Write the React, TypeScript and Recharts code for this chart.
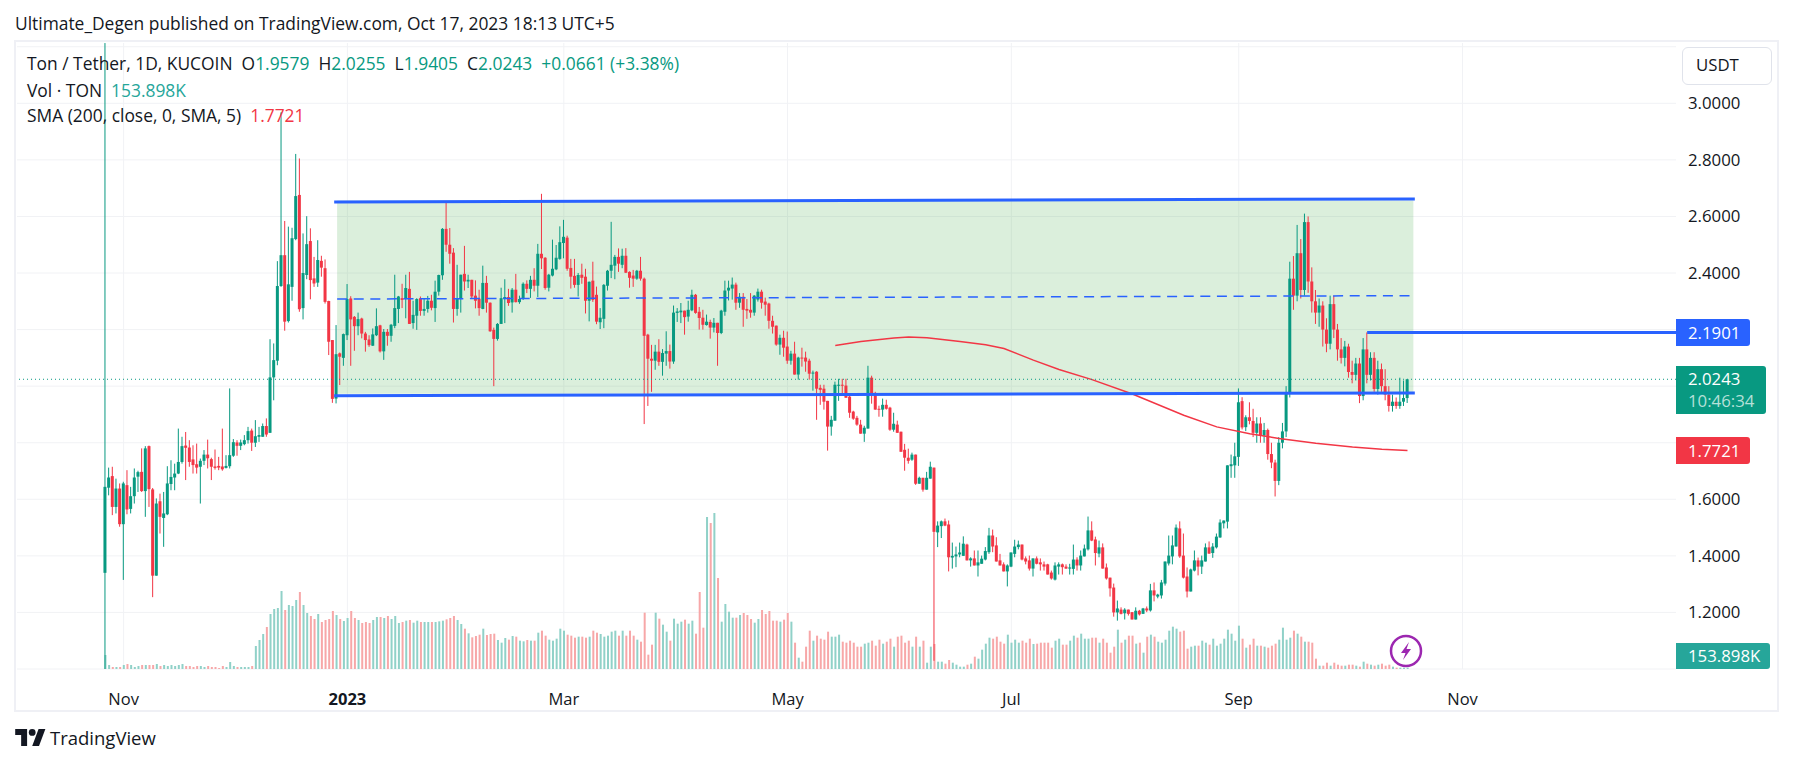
import { Bar, CartesianGrid, ComposedChart, Line, ReferenceArea, ReferenceLine, XAxis, YAxis } from 'recharts'

// open, high, low, close per day, day 0 = Oct 27 2022
const ohlc = [
  [1.34,3.213,1.0,1.644],[1.641,1.712,1.614,1.677],[1.682,1.715,1.544,1.573],[1.573,1.673,1.55,1.638],
  [1.638,1.656,1.503,1.512],[1.512,1.662,1.315,1.656],[1.65,1.703,1.547,1.564],[1.566,1.644,1.55,1.611],
  [1.611,1.709,1.585,1.677],[1.68,1.701,1.626,1.696],[1.697,1.78,1.626,1.629],[1.629,1.788,1.538,1.78],
  [1.788,1.79,1.573,1.636],[1.635,1.64,1.254,1.33],[1.33,1.603,1.33,1.585],[1.593,1.62,1.479,1.538],
  [1.534,1.626,1.432,1.55],[1.547,1.717,1.544,1.656],[1.654,1.738,1.632,1.679],[1.677,1.726,1.632,1.691],
  [1.691,1.85,1.689,1.732],[1.732,1.821,1.726,1.788],[1.79,1.838,1.668,1.782],[1.783,1.809,1.715,1.732],
  [1.741,1.791,1.691,1.721],[1.724,1.797,1.691,1.712],[1.715,1.744,1.585,1.736],[1.736,1.774,1.721,1.758],
  [1.758,1.811,1.709,1.745],[1.742,1.747,1.668,1.715],[1.716,1.776,1.705,1.711],[1.718,1.75,1.703,1.712],
  [1.716,1.85,1.701,1.706],[1.711,1.756,1.709,1.718],[1.717,1.992,1.709,1.756],[1.754,1.813,1.75,1.802],
  [1.801,1.809,1.754,1.789],[1.789,1.811,1.774,1.801],[1.795,1.827,1.791,1.809],[1.809,1.856,1.797,1.841],
  [1.843,1.85,1.771,1.8],[1.8,1.88,1.785,1.823],[1.821,1.856,1.803,1.827],[1.821,1.868,1.821,1.859],
  [1.859,1.886,1.821,1.829],[1.835,2.166,1.835,2.031],[2.031,2.151,1.95,2.092],[2.09,2.442,2.074,2.354],
  [2.354,2.968,2.351,2.463],[2.463,2.584,2.196,2.228],[2.23,2.564,2.225,2.36],[2.351,2.56,2.302,2.523],
  [2.52,2.821,2.516,2.672],[2.676,2.805,2.263,2.272],[2.276,2.54,2.236,2.4],[2.393,2.601,2.378,2.502],
  [2.513,2.558,2.307,2.375],[2.381,2.457,2.351,2.363],[2.366,2.516,2.351,2.446],[2.443,2.461,2.387,2.419],
  [2.417,2.448,2.292,2.298],[2.301,2.302,2.11,2.157],[2.163,2.163,1.941,1.955],[1.956,2.216,1.939,2.113],
  [2.116,2.119,2.004,2.104],[2.1,2.186,2.072,2.184],[2.18,2.361,2.163,2.308],[2.31,2.318,2.072,2.236],
  [2.245,2.248,2.125,2.212],[2.212,2.26,2.18,2.237],[2.239,2.242,2.169,2.186],[2.186,2.192,2.122,2.163],
  [2.165,2.18,2.139,2.145],[2.143,2.204,2.142,2.183],[2.18,2.275,2.177,2.212],[2.215,2.217,2.119,2.123],
  [2.123,2.202,2.093,2.192],[2.192,2.202,2.143,2.178],[2.178,2.22,2.157,2.217],[2.213,2.394,2.205,2.276],
  [2.273,2.319,2.223,2.317],[2.311,2.362,2.276,2.305],[2.308,2.394,2.24,2.347],[2.344,2.404,2.22,2.22],
  [2.223,2.302,2.203,2.252],[2.249,2.311,2.199,2.308],[2.311,2.317,2.249,2.266],[2.266,2.311,2.249,2.273],
  [2.273,2.319,2.26,2.302],[2.302,2.323,2.268,2.277],[2.276,2.373,2.227,2.334],[2.334,2.394,2.32,2.393],
  [2.392,2.559,2.376,2.556],[2.556,2.653,2.475,2.5],[2.5,2.559,2.433,2.468],[2.472,2.488,2.225,2.273],
  [2.273,2.429,2.249,2.311],[2.309,2.394,2.26,2.394],[2.397,2.496,2.338,2.37],[2.37,2.394,2.347,2.376],
  [2.376,2.376,2.308,2.317],[2.32,2.374,2.275,2.302],[2.309,2.341,2.249,2.276],[2.273,2.426,2.272,2.365],
  [2.365,2.39,2.26,2.295],[2.295,2.296,2.192,2.194],[2.199,2.207,2.0,2.167],[2.167,2.223,2.161,2.22],
  [2.22,2.348,2.22,2.311],[2.308,2.378,2.223,2.315],[2.315,2.344,2.284,2.294],[2.296,2.347,2.26,2.341],
  [2.341,2.397,2.296,2.297],[2.297,2.32,2.291,2.308],[2.308,2.367,2.305,2.362],[2.362,2.374,2.329,2.344],
  [2.344,2.39,2.312,2.376],[2.376,2.417,2.335,2.355],[2.355,2.503,2.315,2.468],[2.468,2.68,2.414,2.452],
  [2.454,2.456,2.341,2.347],[2.348,2.397,2.335,2.394],[2.391,2.518,2.388,2.415],[2.413,2.499,2.41,2.454],
  [2.45,2.565,2.447,2.509],[2.506,2.588,2.452,2.528],[2.525,2.532,2.408,2.415],[2.418,2.45,2.345,2.387],
  [2.39,2.45,2.348,2.358],[2.358,2.4,2.317,2.393],[2.394,2.433,2.362,2.383],[2.387,2.415,2.257,2.302],
  [2.302,2.37,2.229,2.369],[2.373,2.44,2.298,2.305],[2.323,2.352,2.219,2.228],[2.226,2.276,2.202,2.242],
  [2.238,2.361,2.205,2.358],[2.355,2.411,2.338,2.408],[2.408,2.581,2.382,2.429],[2.426,2.464,2.378,2.457],
  [2.457,2.487,2.404,2.433],[2.429,2.486,2.417,2.461],[2.461,2.488,2.4,2.401],[2.404,2.406,2.348,2.383],
  [2.391,2.411,2.351,2.38],[2.38,2.411,2.376,2.408],[2.408,2.457,2.373,2.38],[2.38,2.384,1.866,2.178],
  [2.182,2.185,1.93,2.097],[2.097,2.146,1.98,2.09],[2.09,2.146,2.058,2.122],[2.122,2.166,2.072,2.086],
  [2.086,2.131,2.037,2.117],[2.115,2.194,2.072,2.124],[2.124,2.147,2.062,2.087],[2.087,2.285,2.079,2.26],
  [2.259,2.276,2.227,2.264],[2.261,2.294,2.223,2.267],[2.267,2.267,2.182,2.244],[2.246,2.302,2.228,2.27],
  [2.268,2.341,2.265,2.323],[2.323,2.326,2.256,2.259],[2.263,2.28,2.2,2.241],[2.242,2.27,2.2,2.217],
  [2.216,2.253,2.214,2.228],[2.227,2.235,2.168,2.207],[2.207,2.241,2.19,2.224],[2.224,2.224,2.072,2.188],
  [2.188,2.27,2.184,2.267],[2.263,2.373,2.249,2.338],[2.338,2.373,2.303,2.348],[2.345,2.384,2.306,2.359],
  [2.359,2.366,2.27,2.295],[2.295,2.329,2.277,2.316],[2.316,2.329,2.21,2.27],[2.273,2.308,2.238,2.267],
  [2.27,2.329,2.242,2.26],[2.26,2.322,2.249,2.32],[2.306,2.345,2.299,2.334],[2.334,2.341,2.274,2.295],
  [2.299,2.313,2.249,2.288],[2.292,2.295,2.203,2.231],[2.231,2.249,2.186,2.21],[2.214,2.214,2.143,2.147],
  [2.147,2.182,2.111,2.171],[2.171,2.196,2.104,2.136],[2.14,2.193,2.079,2.09],[2.09,2.125,2.076,2.115],
  [2.115,2.157,2.041,2.041],[2.041,2.104,2.023,2.101],[2.101,2.136,2.069,2.098],[2.101,2.122,2.051,2.087],
  [2.09,2.097,2.023,2.044],[2.045,2.055,1.984,2.048],[2.051,2.053,1.881,1.991],[1.994,2.005,1.934,1.987],
  [1.991,2.005,1.917,1.945],[1.948,1.948,1.772,1.857],[1.857,1.895,1.825,1.881],[1.878,2.016,1.878,2.005],
  [2.002,2.026,1.948,2.005],[2.005,2.026,1.966,2.002],[2.002,2.026,1.959,1.959],[1.963,1.966,1.888,1.906],
  [1.91,1.913,1.881,1.885],[1.888,1.895,1.86,1.864],[1.864,1.881,1.832,1.832],[1.832,1.86,1.803,1.853],
  [1.85,2.072,1.85,2.03],[2.03,2.037,1.938,1.97],[1.976,1.98,1.917,1.917],[1.92,1.931,1.892,1.918],
  [1.917,1.956,1.892,1.934],[1.934,1.952,1.917,1.92],[1.924,1.927,1.842,1.846],[1.846,1.906,1.839,1.867],
  [1.864,1.878,1.835,1.835],[1.839,1.839,1.768,1.768],[1.775,1.796,1.701,1.747],[1.747,1.779,1.726,1.736],
  [1.74,1.765,1.736,1.758],[1.758,1.758,1.651,1.655],[1.655,1.68,1.655,1.676],[1.676,1.676,1.627,1.634],
  [1.634,1.697,1.634,1.676],[1.673,1.733,1.673,1.715],[1.712,1.712,1.029,1.485],[1.483,1.522,1.431,1.507],
  [1.505,1.525,1.463,1.522],[1.522,1.532,1.505,1.507],[1.511,1.525,1.345,1.395],[1.394,1.447,1.355,1.4],
  [1.398,1.433,1.36,1.405],[1.405,1.447,1.395,1.412],[1.4,1.469,1.4,1.443],[1.44,1.443,1.384,1.384],
  [1.384,1.395,1.362,1.391],[1.391,1.419,1.366,1.366],[1.366,1.419,1.327,1.377],[1.372,1.401,1.372,1.39],
  [1.387,1.431,1.384,1.417],[1.413,1.499,1.407,1.472],[1.472,1.493,1.413,1.433],[1.437,1.466,1.38,1.38],
  [1.384,1.407,1.366,1.366],[1.37,1.377,1.345,1.345],[1.345,1.37,1.292,1.366],[1.362,1.412,1.36,1.412],
  [1.407,1.457,1.395,1.433],[1.431,1.454,1.423,1.44],[1.44,1.44,1.384,1.387],[1.391,1.398,1.37,1.38],
  [1.384,1.401,1.348,1.355],[1.355,1.391,1.327,1.391],[1.391,1.398,1.37,1.372],[1.377,1.391,1.348,1.37],
  [1.37,1.38,1.348,1.362],[1.37,1.372,1.334,1.334],[1.341,1.348,1.316,1.32],[1.316,1.377,1.313,1.366],
  [1.362,1.377,1.334,1.37],[1.37,1.373,1.334,1.36],[1.362,1.37,1.354,1.355],[1.355,1.372,1.334,1.359],
  [1.354,1.44,1.334,1.387],[1.387,1.395,1.348,1.366],[1.366,1.419,1.348,1.401],[1.398,1.44,1.398,1.426],
  [1.423,1.539,1.419,1.49],[1.49,1.522,1.452,1.454],[1.458,1.468,1.366,1.41],[1.408,1.454,1.395,1.43],
  [1.43,1.444,1.355,1.355],[1.359,1.373,1.316,1.32],[1.323,1.323,1.256,1.285],[1.288,1.302,1.185,1.2],
  [1.2,1.242,1.171,1.214],[1.21,1.218,1.193,1.195],[1.197,1.215,1.175,1.21],[1.21,1.21,1.189,1.195],
  [1.201,1.201,1.175,1.175],[1.175,1.218,1.175,1.206],[1.206,1.209,1.189,1.193],[1.195,1.216,1.195,1.214],
  [1.214,1.221,1.201,1.207],[1.207,1.301,1.203,1.278],[1.278,1.306,1.239,1.26],[1.256,1.266,1.25,1.263],
  [1.26,1.315,1.249,1.306],[1.302,1.38,1.295,1.38],[1.373,1.472,1.366,1.401],[1.398,1.472,1.37,1.437],
  [1.433,1.511,1.433,1.5],[1.497,1.522,1.393,1.398],[1.401,1.479,1.32,1.323],[1.327,1.359,1.253,1.274],
  [1.274,1.355,1.274,1.352],[1.348,1.419,1.345,1.384],[1.384,1.394,1.331,1.362],[1.362,1.401,1.336,1.384],
  [1.38,1.444,1.38,1.43],[1.43,1.451,1.407,1.408],[1.41,1.445,1.393,1.433],[1.43,1.479,1.426,1.468],
  [1.465,1.529,1.464,1.518],[1.515,1.525,1.497,1.525],[1.521,1.72,1.497,1.72],[1.717,1.758,1.676,1.724],
  [1.72,1.8,1.676,1.752],[1.75,1.992,1.718,1.943],[1.947,1.961,1.847,1.854],[1.855,1.897,1.841,1.89],
  [1.89,1.943,1.865,1.877],[1.877,1.92,1.82,1.835],[1.835,1.89,1.8,1.868],[1.868,1.89,1.8,1.825],
  [1.825,1.87,1.8,1.845],[1.845,1.85,1.74,1.76],[1.76,1.8,1.71,1.73],[1.73,1.74,1.61,1.665],
  [1.665,1.82,1.65,1.8],[1.8,1.87,1.78,1.84],[1.84,2.0,1.82,1.975],[1.975,2.44,1.96,2.38],
  [2.38,2.46,2.27,2.32],[2.32,2.57,2.3,2.47],[2.47,2.52,2.31,2.34],[2.34,2.61,2.32,2.58],
  [2.58,2.6,2.33,2.37],[2.37,2.42,2.26,2.3],[2.3,2.34,2.22,2.26],[2.26,2.31,2.21,2.285],
  [2.285,2.3,2.14,2.2],[2.2,2.24,2.12,2.15],[2.15,2.32,2.13,2.29],[2.29,2.32,2.17,2.2],
  [2.2,2.22,2.09,2.13],[2.13,2.17,2.08,2.1],[2.1,2.16,2.07,2.14],[2.14,2.15,2.03,2.05],
  [2.05,2.09,2.01,2.04],[2.04,2.1,2.02,2.08],[2.08,2.1,1.94,1.965],[1.965,2.17,1.95,2.13],
  [2.13,2.19,2.01,2.04],[2.04,2.12,2.02,2.1],[2.1,2.12,1.98,1.99],[1.99,2.09,1.97,2.06],
  [2.06,2.08,1.98,2.0],[2.0,2.06,1.95,1.97],[1.97,2.0,1.91,1.93],[1.93,1.97,1.91,1.945],
  [1.945,1.96,1.92,1.93],[1.93,2.03,1.92,1.945],[1.945,2.02,1.93,1.958],[1.9579,2.0255,1.9405,2.0243],
]

const volumes = [
  42,12,6,6,6,12,15,12,6,9,12,12,12,12,15,9,12,9,12,9,12,15,9,9,6,9,9,6,9,6,6,3,9,6,21,9,6,6,6,6,9,
  69,87,105,126,165,180,183,234,177,192,189,207,231,192,168,159,150,165,141,147,150,174,162,150,144,153,174,153,147,138,
  141,138,147,156,156,153,159,150,159,138,
  141,145,147,139,145,141,141,141,141,141,143,145,149,153,159,147,135,121,107,95,
  99,103,121,102,105,106,87,79,93,88,99,97,85,83,87,85,85,109,115,100,
  88,85,91,121,115,103,100,94,97,97,94,97,115,109,105,97,100,112,115,100,
  115,100,115,100,88,82,169,43,73,169,151,133,112,85,151,136,142,148,136,145,
  106,231,124,456,438,468,273,142,195,172,154,154,162,168,162,150,139,150,177,165,
  174,145,145,142,148,168,142,79,34,
  22,67,115,85,100,91,88,112,97,97,103,82,79,85,79,67,67,76,79,85,70,88,76,82,91,67,97,100,79,85,67,97,67,85,19,67,75,
  22,22,16,27,19,13,7,7,13,16,
  37,31,58,76,94,91,97,82,76,103,
  79,88,79,85,79,91,75,76,79,79,
  79,64,85,91,73,73,85,100,94,106,
  91,91,94,94,79,91,79,49,67,118,
  79,88,100,100,76,79,49,97,103,97,
  82,79,88,115,127,121,112,115,61,67,
  70,70,85,79,73,91,70,76,91,118,
  106,85,130,91,64,73,91,70,70,67,
  64,70,76,88,124,88,94,115,106,97,
  82,82,79,31,10,10,19,10,19,13,
  10,10,13,13,10,7,22,16,13,10,
  13,16,10,13,7,4,4,4,4,
]

const smaDays = [199, 206, 215, 219, 224, 233, 240, 245, 253, 260, 269, 280, 294, 303, 312, 320, 330, 340, 348, 355]
const smaValues = [2.144, 2.158, 2.17, 2.174, 2.171, 2.158, 2.146, 2.133, 2.092, 2.059, 2.023, 1.972, 1.897, 1.856, 1.832, 1.815, 1.798, 1.785, 1.777, 1.7721]

const timeTicks = [5, 66, 125, 186, 247, 309, 370]
const timeLabels = ['Nov', '2023', 'Mar', 'May', 'Jul', 'Sep', 'Nov']
// 2.2 and 2.0 sit fully behind the price tags, so they get no label
const priceTicks = [3, 2.8, 2.6, 2.4, 1.8, 1.6, 1.4, 1.2]
const priceGrid = [3.2, 3, 2.8, 2.6, 2.4, 2.2, 2, 1.8, 1.6, 1.4, 1.2, 1]

const rows = ohlc.map(([open, high, low, close], day) => {
  const s = smaDays.indexOf(day)
  return { day, open, high, low, close, volume: volumes[day] ?? 0, sma: s >= 0 ? smaValues[s] : null, up: close >= open }
})

const UP = '#089981'
const DOWN = '#f23645'
const BLUE = '#2962ff'
const FONT = '"Open Sans", "Noto Sans", sans-serif'
const dayDomain = [-24.07, 428.2]

function Candle(props: any) {
  const { x, y, width, height, payload } = props
  const { open, high, low, close, up } = payload
  const color = up ? UP : DOWN
  const perUnit = Math.abs(height) / (high - low || 1)
  const cx = x + width / 2
  const bodyTop = y + (high - Math.max(open, close)) * perUnit
  const bodyH = Math.max(Math.abs(open - close) * perUnit, 1)
  return (
    <g>
      <rect x={cx - 0.5} y={y} width={1} height={Math.abs(height)} fill={color} />
      <rect x={cx - 1.5} y={bodyTop} width={3} height={bodyH} fill={color} />
    </g>
  )
}

function VolumeBar(props: any) {
  const { x, y, width, height, payload } = props
  return <rect x={x} y={y} width={width} height={height} fill={payload.up ? '#90d1c8' : '#f7a7a8'} />
}

function TimeTick(props: any) {
  const { x, y, payload } = props
  const i = timeTicks.indexOf(payload.value)
  return (
    <text x={x} y={y + 28} textAnchor="middle" fontFamily={FONT} fontSize={16.5} fontWeight={timeLabels[i] === '2023' ? 700 : 400} fill="#131722">
      {timeLabels[i]}
    </text>
  )
}

function Tag({ top, height, width, bg, children }: any) {
  return (
    <div style={{ position: 'absolute', left: 1676, top, width, height, background: bg, color: '#fff', borderRadius: '0 3px 3px 0', fontFamily: FONT, fontSize: 16.8, lineHeight: '22px', paddingLeft: 12, boxSizing: 'border-box', display: 'flex', flexDirection: 'column', justifyContent: 'center' }}>
      {children}
    </div>
  )
}

function Header() {
  const green = { color: UP }
  const row = (top: number, children: any) => (
    <div style={{ position: 'absolute', left: 27, top, fontFamily: FONT, fontSize: 17.4, lineHeight: '20px', color: '#131722', whiteSpace: 'pre' }}>{children}</div>
  )
  return (
    <>
      <div style={{ position: 'absolute', left: 15, top: 12, fontFamily: FONT, fontSize: 17.4, lineHeight: '22px', color: '#131722', whiteSpace: 'pre' }}>
        Ultimate_Degen published on TradingView.com, Oct 17, 2023 18:13 UTC+5
      </div>
      {row(53, <>Ton / Tether, 1D, KUCOIN  O<span style={green}>1.9579</span>  H<span style={green}>2.0255</span>  L<span style={green}>1.9405</span>  C<span style={green}>2.0243</span>  <span style={green}>+0.0661 (+3.38%)</span></>)}
      {row(80, <>Vol · TON  <span style={{ color: '#26a69a' }}>153.898K</span></>)}
      {row(105, <>SMA (200, close, 0, SMA, 5)  <span style={{ color: DOWN }}>1.7721</span></>)}
    </>
  )
}

export default function App() {
  return (
    <div style={{ position: 'absolute', left: 0, top: 0, width: 1793, height: 765, background: '#fff', overflow: 'hidden' }}>
      <div style={{ position: 'absolute', left: 14, top: 40, width: 1765, height: 672, border: '2px solid #eff0f5', boxSizing: 'border-box' }} />
      <ComposedChart width={1793} height={765} data={rows} margin={{ top: 43, right: 0, bottom: 56, left: 17 }} style={{ position: 'absolute', left: 0, top: 0 }}>
        <CartesianGrid xAxisId="price" yAxisId="price" stroke="#f1f2f5" horizontalValues={priceGrid} verticalValues={timeTicks} />
        <XAxis xAxisId="price" dataKey="day" type="number" domain={dayDomain} ticks={timeTicks} allowDataOverflow height={40} axisLine={false} tickLine={false} tick={<TimeTick />} interval={0} />
        <XAxis xAxisId="vol" dataKey="day" type="number" domain={dayDomain} allowDataOverflow hide />
        <YAxis yAxisId="price" orientation="right" domain={[1, 3.2132]} ticks={priceTicks} allowDataOverflow width={117} axisLine={false} tickLine={false} tickSize={0} tickMargin={12} interval={0} tick={{ fontFamily: FONT, fontSize: 16.8, fill: '#131722' }} tickFormatter={(v: number) => v.toFixed(4)} />
        <YAxis yAxisId="vol" domain={[0, 1878]} allowDataOverflow hide />

        <ReferenceArea xAxisId="price" yAxisId="price" x1={63.2} x2={356.6} y1={1.973} y2={2.656} fill="#4caf50" fillOpacity={0.2} stroke="none" />

        <Bar xAxisId="vol" yAxisId="vol" dataKey="volume" barSize={2} shape={<VolumeBar />} isAnimationActive={false} />
        <Bar xAxisId="price" yAxisId="price" dataKey={(d: any) => [d.low, d.high]} barSize={3} shape={<Candle />} isAnimationActive={false} />
        <Line xAxisId="price" yAxisId="price" dataKey="sma" connectNulls dot={false} stroke={DOWN} strokeWidth={1.5} type="linear" isAnimationActive={false} />

        <ReferenceLine xAxisId="price" yAxisId="price" y={2.0243} stroke={UP} strokeWidth={1} strokeDasharray="1 3" />
        <ReferenceLine xAxisId="price" yAxisId="price" segment={[{ x: 62.4, y: 2.651 }, { x: 357, y: 2.662 }]} stroke={BLUE} strokeWidth={3} />
        <ReferenceLine xAxisId="price" yAxisId="price" segment={[{ x: 62.4, y: 1.966 }, { x: 357, y: 1.976 }]} stroke={BLUE} strokeWidth={3} />
        <ReferenceLine xAxisId="price" yAxisId="price" segment={[{ x: 63.2, y: 2.308 }, { x: 357, y: 2.32 }]} stroke={BLUE} strokeWidth={1.5} strokeDasharray="10 6.6" />
        <ReferenceLine xAxisId="price" yAxisId="price" segment={[{ x: 344, y: 2.1901 }, { x: 428.2, y: 2.1901 }]} stroke={BLUE} strokeWidth={3} />
      </ComposedChart>

      <Header />

      <div style={{ position: 'absolute', left: 1682, top: 47, width: 90, height: 38, border: '1px solid #e0e3eb', borderRadius: 6, boxSizing: 'border-box', background: '#fff', fontFamily: FONT, fontSize: 16.8, lineHeight: '34px', paddingLeft: 13, color: '#131722' }}>USDT</div>

      <Tag top={319} height={27} width={74} bg={BLUE}>2.1901</Tag>
      <Tag top={366} height={48} width={90} bg={UP}>
        <span>2.0243</span>
        <span style={{ color: '#b5e0d8' }}>10:46:34</span>
      </Tag>
      <Tag top={437} height={27} width={74} bg={DOWN}>1.7721</Tag>
      <Tag top={643} height={26} width={94} bg="#26a69a">153.898K</Tag>

      <svg width={34} height={34} style={{ position: 'absolute', left: 1389, top: 634 }}>
        <circle cx={17} cy={17} r={15} fill="none" stroke="#9c27b0" strokeWidth={2.5} />
        <path d="M20 8 L12 19 L16.5 19 L14 26 L22 15 L17.5 15 Z" fill="#9c27b0" />
      </svg>

      <svg width={31} height={17} viewBox="0 0 36 20" style={{ position: 'absolute', left: 15, top: 729 }}>
        <path d="M14 20H7V7H0V0h14v20zM28 20h-8L27.5 0h8L28 20z" fill="#131722" />
        <circle cx={20} cy={4} r={4} fill="#131722" />
      </svg>
      <div style={{ position: 'absolute', left: 50, top: 725, fontFamily: FONT, fontSize: 18.5, lineHeight: '26px', color: '#131722' }}>TradingView</div>
    </div>
  )
}
